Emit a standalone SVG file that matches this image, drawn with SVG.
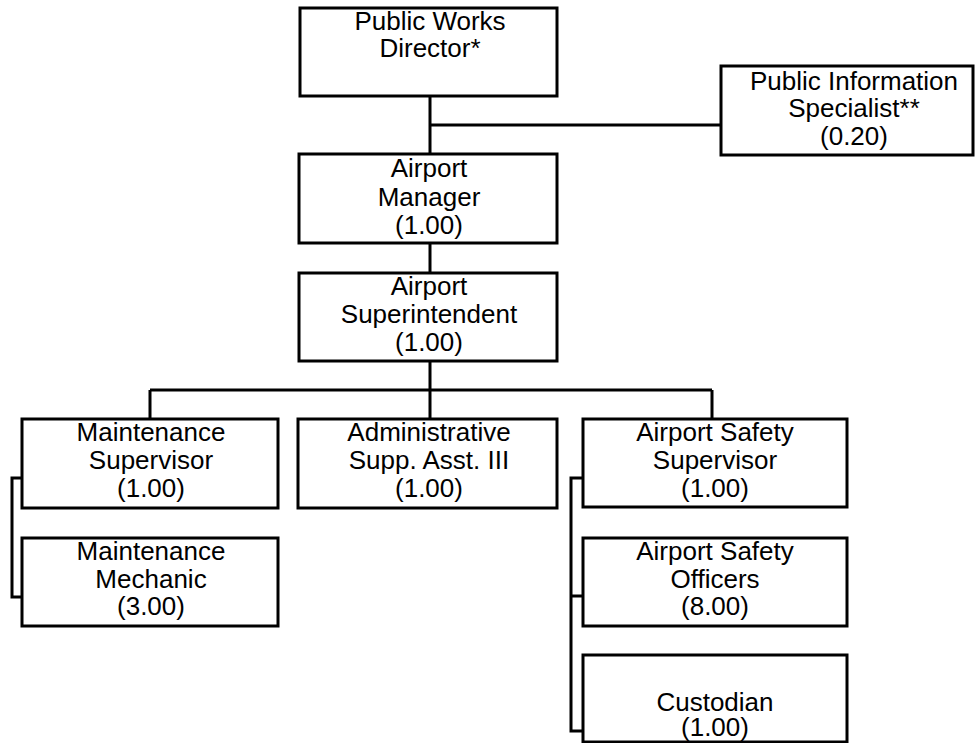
<svg xmlns="http://www.w3.org/2000/svg" width="975" height="743" viewBox="0 0 975 743">
<style>
.box{fill:#fff;stroke:#000;stroke-width:3}
.c{fill:none;stroke:#000;stroke-width:3}
text{font-family:"Liberation Sans",Arial,sans-serif;font-size:26px;fill:#000;text-anchor:middle}
</style>
<rect width="975" height="743" fill="#fff"/>
<g id="connectors">
<path class="c" d="M430,96V154M430,125H721"/>
<path class="c" d="M430,243V273"/>
<path class="c" d="M430,361V419M150,390H712M150,390V419M712,390V419"/>
<path class="c" d="M22,478H12V597H22"/>
<path class="c" d="M583,478H571V731H583M571,596H583"/>
</g>
<g id="director">
<rect class="box" x="300" y="8" width="257" height="88"/>
<text x="430" y="30">Public Works</text>
<text x="430" y="57">Director*</text>
</g>
<g id="pis">
<rect class="box" x="721" y="66" width="252" height="89"/>
<text x="854" y="90">Public Information</text>
<text x="854" y="117">Specialist**</text>
<text x="854" y="145">(0.20)</text>
</g>
<g id="manager">
<rect class="box" x="299" y="154" width="258" height="89"/>
<text x="429" y="177">Airport</text>
<text x="429" y="206">Manager</text>
<text x="429" y="234">(1.00)</text>
</g>
<g id="superintendent">
<rect class="box" x="299" y="273" width="258" height="88"/>
<text x="429" y="295">Airport</text>
<text x="429" y="323">Superintendent</text>
<text x="429" y="351">(1.00)</text>
</g>
<g id="maint-sup">
<rect class="box" x="22" y="419" width="256" height="89"/>
<text x="151" y="441">Maintenance</text>
<text x="151" y="469">Supervisor</text>
<text x="151" y="497">(1.00)</text>
</g>
<g id="admin">
<rect class="box" x="298" y="419" width="259" height="89"/>
<text x="429" y="441">Administrative</text>
<text x="429" y="469">Supp. Asst. III</text>
<text x="429" y="497">(1.00)</text>
</g>
<g id="safety-sup">
<rect class="box" x="583" y="419" width="264" height="88"/>
<text x="715" y="441">Airport Safety</text>
<text x="715" y="469">Supervisor</text>
<text x="715" y="497">(1.00)</text>
</g>
<g id="mechanic">
<rect class="box" x="22" y="538" width="256" height="88"/>
<text x="151" y="560">Maintenance</text>
<text x="151" y="588">Mechanic</text>
<text x="151" y="615">(3.00)</text>
</g>
<g id="officers">
<rect class="box" x="583" y="538" width="264" height="88"/>
<text x="715" y="560">Airport Safety</text>
<text x="715" y="588">Officers</text>
<text x="715" y="615">(8.00)</text>
</g>
<g id="custodian">
<rect class="box" x="583" y="655" width="264" height="87"/>
<text x="715" y="711">Custodian</text>
<text x="715" y="736">(1.00)</text>
</g>
</svg>
